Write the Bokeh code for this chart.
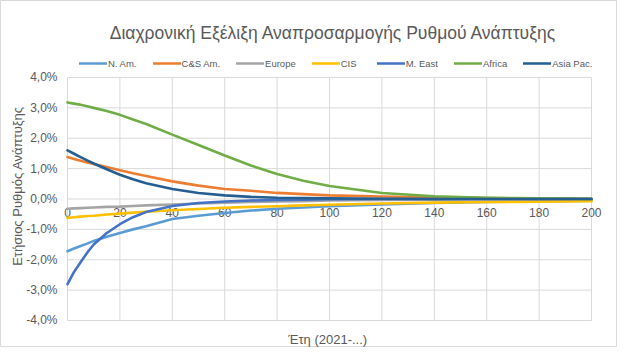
import math
from bokeh.plotting import figure
from bokeh.models import Legend, LegendItem
from bokeh.core.properties import value
from bokeh.embed import file_html
from bokeh.resources import INLINE

# ---------------- data ----------------
years = [0, 2.5, 5, 7.5, 10, 15, 20, 25, 30, 40, 50, 60, 70, 80, 90, 100, 120, 140, 160, 180, 200]
n_am = [-1.72, -1.63, -1.55, -1.47, -1.38, -1.24, -1.12, -1.0, -0.9, -0.66, -0.55, -0.46, -0.38, -0.32, -0.28, -0.24, -0.18, -0.13, -0.1, -0.08, -0.06]
cs_am = [1.38, 1.32, 1.26, 1.2, 1.15, 1.05, 0.95, 0.85, 0.76, 0.58, 0.44, 0.33, 0.27, 0.2, 0.16, 0.12, 0.08, 0.05, 0.03, 0.02, 0.01]
europe = [-0.32, -0.31, -0.30, -0.29, -0.28, -0.26, -0.25, -0.23, -0.21, -0.18, -0.15, -0.12, -0.1, -0.08, -0.07, -0.05, -0.03, -0.02, -0.01, -0.01, 0.0]
cis = [-0.62, -0.60, -0.58, -0.56, -0.55, -0.51, -0.48, -0.45, -0.42, -0.37, -0.33, -0.29, -0.26, -0.24, -0.21, -0.19, -0.15, -0.12, -0.1, -0.09, -0.07]
m_east = [-2.8, -2.4, -2.08, -1.77, -1.5, -1.12, -0.83, -0.6, -0.43, -0.23, -0.13, -0.08, -0.05, -0.03, -0.02, -0.01, 0.0, 0.0, 0.0, 0.0, 0.0]
africa = [3.18, 3.14, 3.1, 3.05, 3.0, 2.9, 2.77, 2.62, 2.47, 2.12, 1.78, 1.43, 1.1, 0.82, 0.6, 0.43, 0.2, 0.09, 0.04, 0.02, 0.01]
asia_pac = [1.6, 1.49, 1.38, 1.27, 1.17, 0.98, 0.8, 0.65, 0.52, 0.33, 0.2, 0.12, 0.07, 0.04, 0.03, 0.02, 0.01, 0.0, 0.0, 0.0, 0.0]

series_names = ["N. Am.", "C&S Am.", "Europe", "CIS", "M. East", "Africa", "Asia Pac."]
series_values = [n_am, cs_am, europe, cis, m_east, africa, asia_pac]
colors = ["#5B9BD5", "#ED7D31", "#A5A5A5", "#FFC000", "#4472C4", "#70AD47", "#255E91"]

x_ticks = [0, 20, 40, 60, 80, 100, 120, 140, 160, 180, 200]
x_tick_labels = ["0", "20", "40", "60", "80", "100", "120", "140", "160", "180", "200"]
y_ticks = [-4, -3, -2, -1, 0, 1, 2, 3, 4]
y_tick_labels = ["-4,0%", "-3,0%", "-2,0%", "-1,0%", "0,0%", "1,0%", "2,0%", "3,0%", "4,0%"]

chart_title = "Διαχρονική Εξέλιξη Αναπροσαρμογής Ρυθμού Ανάπτυξης"
x_title = "Έτη  (2021-...)"
y_title = "Ετήσιος Ρυθμός Ανάπτυξης"

FONT = "Liberation Sans"
GREY = "#595959"
GRID = "#d9d9d9"

# frame covers the whole figure; the plotted area (0..200, -4..4) sits inside it
p = figure(width=617, height=347, x_range=(-25.57, 209.92), y_range=(-4.889, 6.535),
           output_backend="svg", toolbar_location=None, title=None,
           min_border_left=0, min_border_right=0, min_border_top=0, min_border_bottom=0)
p.xaxis.visible = False
p.yaxis.visible = False
p.xgrid.visible = False
p.ygrid.visible = False
p.outline_line_color = GRID
p.background_fill_color = "white"
p.border_fill_color = "white"

# grid lines
p.segment(x0=x_ticks, y0=[y_ticks[0]] * len(x_ticks), x1=x_ticks, y1=[y_ticks[-1]] * len(x_ticks),
          line_color=GRID, line_width=1)
p.segment(x0=[x_ticks[0]] * len(y_ticks), y0=y_ticks, x1=[x_ticks[-1]] * len(y_ticks), y1=y_ticks,
          line_color=GRID, line_width=1)

# y tick labels
p.text(x=[x_ticks[0]] * len(y_ticks), y=y_ticks, text=y_tick_labels, text_align="right",
       text_baseline="middle", x_offset=-10, text_font=value(FONT), text_font_size="12px",
       text_color=GREY)
# x tick labels sitting under the zero line
p.text(x=x_ticks, y=[0] * len(x_ticks), text=x_tick_labels, text_align="center",
       text_baseline="middle", y_offset=14, text_font=value(FONT), text_font_size="12px",
       text_color=GREY)

# series
items = []
for name, vals, col in zip(series_names, series_values, colors):
    r = p.line(x=years, y=vals, line_color=col, line_width=2.6, line_join="round", line_cap="round")
    items.append(LegendItem(label=name, renderers=[r]))

# titles
p.text(x=[101.5], y=[5.449], text=[chart_title], text_align="center", text_baseline="middle",
       text_font=value(FONT), text_font_size="17.5px", text_color=GREY)
p.text(x=[100], y=[-4.626], text=[x_title], text_align="center", text_baseline="middle",
       text_font=value(FONT), text_font_size="13px", text_color=GREY)
p.text(x=[-19.08], y=[0.428], text=[y_title], text_align="center", text_baseline="middle",
       angle=math.pi / 2, text_font=value(FONT), text_font_size="13px", text_color=GREY)

legend = Legend(items=items, orientation="horizontal", location=(79, 278),
                label_text_font=FONT, label_text_font_size="9.5px", label_text_color=GREY,
                glyph_width=28, glyph_height=12, label_height=12, label_standoff=1, spacing=16,
                border_line_color=None, background_fill_alpha=0, padding=0, margin=0)
p.add_layout(legend)

open("out.html", "w").write(file_html(p, INLINE))
